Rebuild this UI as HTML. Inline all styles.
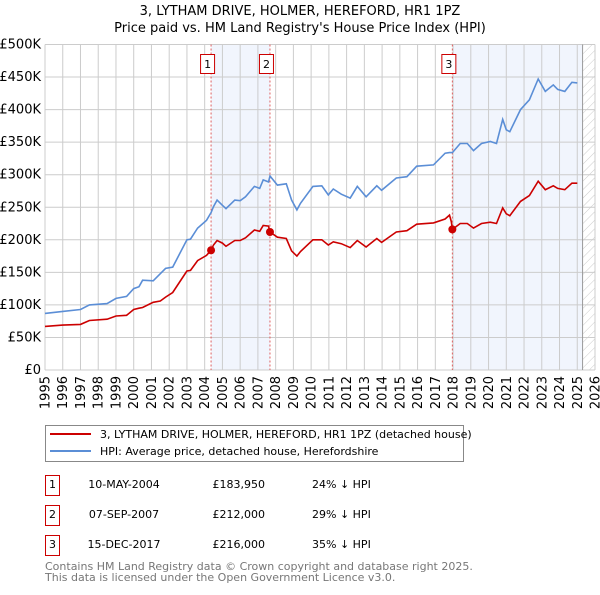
<!DOCTYPE html>
<html><head><meta charset="utf-8"><style>
body{margin:0;background:#fff;font-family:"Liberation Sans","DejaVu Sans",sans-serif;}
svg text{font-family:"DejaVu Sans","Liberation Sans",sans-serif;}
</style></head><body>
<svg id="c" width="600" height="590" xmlns="http://www.w3.org/2000/svg">
<defs><pattern id="hatch" width="6" height="6" patternUnits="userSpaceOnUse" patternTransform="rotate(45)"><line x1="0" y1="0" x2="0" y2="6" stroke="#ccc" stroke-width="1"/></pattern></defs>
<text x="300" y="15" text-anchor="middle" font-size="13">3, LYTHAM DRIVE, HOLMER, HEREFORD, HR1 1PZ</text>
<text x="300" y="32" text-anchor="middle" font-size="13">Price paid vs. HM Land Registry's House Price Index (HPI)</text>
<g id="bg"></g><g id="grid"></g><g id="lines"></g><g id="marks"></g><g id="axes"></g>
<g>
<rect x="45.5" y="425.5" width="418" height="36" fill="#fff" stroke="#888"/>
<line x1="50" y1="434" x2="91" y2="434" stroke="#cc0000" stroke-width="2"/>
<text x="100" y="438" font-size="11">3, LYTHAM DRIVE, HOLMER, HEREFORD, HR1 1PZ (detached house)</text>
<line x1="50" y1="451" x2="91" y2="451" stroke="#5b8ed6" stroke-width="2"/>
<text x="100" y="455" font-size="11">HPI: Average price, detached house, Herefordshire</text>
</g>
<g font-size="11">
<rect x="45.5" y="475.5" width="14" height="20" fill="#fff" stroke="#cc0000"/><text x="52.5" y="488" text-anchor="middle">1</text>
<text x="124" y="488" text-anchor="middle">10-MAY-2004</text><text x="265" y="488" text-anchor="end">£183,950</text><text x="312" y="488">24% ↓ HPI</text>
<rect x="45.5" y="505.5" width="14" height="20" fill="#fff" stroke="#cc0000"/><text x="52.5" y="518" text-anchor="middle">2</text>
<text x="124" y="518" text-anchor="middle">07-SEP-2007</text><text x="265" y="518" text-anchor="end">£212,000</text><text x="312" y="518">29% ↓ HPI</text>
<rect x="45.5" y="535.5" width="14" height="20" fill="#fff" stroke="#cc0000"/><text x="52.5" y="548" text-anchor="middle">3</text>
<text x="124" y="548" text-anchor="middle">15-DEC-2017</text><text x="265" y="548" text-anchor="end">£216,000</text><text x="312" y="548">35% ↓ HPI</text>
</g>
<text x="45" y="570" font-size="11" fill="#777">Contains HM Land Registry data © Crown copyright and database right 2025.</text>
<text x="45" y="581" font-size="11" fill="#777">This data is licensed under the Open Government Licence v3.0.</text>
</svg>
<script>
const years=[1995,1996,1997,1997.5,1998.5,1999,1999.6,2000,2000.3,2000.5,2001.1,2001.5,2001.8,2002.2,2003,2003.2,2003.6,2004.1,2004.36,2004.5,2004.7,2005,2005.2,2005.7,2006,2006.3,2006.8,2007.1,2007.3,2007.6,2007.68,2008.1,2008.6,2008.9,2009.2,2009.4,2010.1,2010.6,2010.97,2011.25,2011.7,2012.2,2012.6,2013.1,2013.7,2013.97,2014.8,2015.4,2015.95,2016.9,2017.55,2017.8,2017.9,2017.96,2018.4,2018.8,2019.15,2019.6,2020.1,2020.45,2020.8,2021,2021.2,2021.8,2022.3,2022.8,2023.2,2023.65,2023.9,2024.3,2024.7,2025.0];
const hpi=[87,90,93,100,102,110,113,125,128,138,137,148,156,158,200,201,218,230,242,251,261,253,248,261,260,266,282,279,292,289,298,284,286,261,246,256,282,283,269,278,270,264,282,266,283,276,295,297,313,315,333,334,334,334,348,348,337,348,351,348,385,369,366,400,415,447,428,438,431,428,442,441];
const paid=[67,69,70,76,78,83,84,93,95,96,104,106,112,119,152,153,168,176,184,192,199,195,190,199,199,203,215,213,222,221,212,204,202,183,175,182,200,200,192,197,194,188,199,189,202,196,212,214,224,226,232,238,228,216,225,225,218,225,227,225,249,240,237,259,268,290,277,283,279,277,287,287];
const saleYears=[2004.36,2007.68,2017.96];
const saleValues=[183.95,212,216];
const saleLabels=["1","2","3"];
const yTicks=[0,50,100,150,200,250,300,350,400,450,500];
const yTickLabels=["£0","£50K","£100K","£150K","£200K","£250K","£300K","£350K","£400K","£450K","£500K"];
const xTicks=[1995,1996,1997,1998,1999,2000,2001,2002,2003,2004,2005,2006,2007,2008,2009,2010,2011,2012,2013,2014,2015,2016,2017,2018,2019,2020,2021,2022,2023,2024,2025,2026];
const L=45,R=595,T=44.5,B=370,X0=1995,X1=2026,YMAX=500,dataEnd=2025.3;
const x=v=>L+(v-X0)/(X1-X0)*(R-L);
const y=v=>B-v/YMAX*(B-T);
const NS="http://www.w3.org/2000/svg";
function mk(tag,attrs,parent,txt){const e=document.createElementNS(NS,tag);for(const k in attrs)e.setAttribute(k,attrs[k]);if(txt!==undefined)e.textContent=txt;document.getElementById(parent).appendChild(e);return e;}
let e;
e=mk('rect',{x:L,y:T,width:R-L,height:B-T,fill:'#fff'},'bg');


e=mk('rect',{x:x(saleYears[0]),y:T,width:x(saleYears[1])-x(saleYears[0]),height:B-T,fill:'#eef3fc',opacity:0.8},'bg');


e=mk('rect',{x:x(saleYears[2]),y:T,width:x(dataEnd)-x(saleYears[2]),height:B-T,fill:'#eef3fc',opacity:0.8},'bg');


e=mk('rect',{x:x(dataEnd),y:T,width:R-x(dataEnd),height:B-T,fill:'url(#hatch)'},'bg');


yTicks.forEach((t,i)=>{
 e=mk('line',{x1:L,x2:R,y1:y(t),y2:y(t),stroke:'#ccc'},'grid');
 
 
 e=mk('text',{x:L-4,y:y(t)+4,'text-anchor':'end','font-size':13},'axes',yTickLabels[i]);
 
 
});
xTicks.forEach(t=>{
 e=mk('line',{x1:x(t),x2:x(t),y1:T,y2:B,stroke:'#ccc'},'grid');
 
 
 e=mk('text',{x:0,y:0,'font-size':13,'text-anchor':'end',transform:`translate(${x(t)+4.5},${B+6}) rotate(-90)`},'axes',String(t));
 
 
});
e=mk('line',{x1:x(dataEnd),x2:x(dataEnd),y1:T,y2:B,stroke:'#999','stroke-width':1},'grid');


saleYears.forEach((s,i)=>{
 e=mk('line',{x1:x(s),x2:x(s),y1:T,y2:B,stroke:'#e06060','stroke-dasharray':'2,2'},'grid');
 
 
});
const pts=arr=>arr.map((v,i)=>x(years[i]).toFixed(1)+','+y(v).toFixed(1)).join(' ');
e=mk('polyline',{points:pts(hpi),fill:'none',stroke:'#5b8ed6','stroke-width':1.6},'lines');


e=mk('polyline',{points:pts(paid),fill:'none',stroke:'#cc0000','stroke-width':1.6},'lines');


saleYears.forEach((s,i)=>{
 e=mk('circle',{cx:x(s),cy:y(saleValues[i]),r:4,fill:'#cc0000'},'marks');
 
 
 e=mk('rect',{x:x(s)-10.5,y:54.5,width:14,height:19,fill:'#fff',stroke:'#cc0000'},'marks');
 
 
 e=mk('text',{x:x(s)-3.5,y:68,'text-anchor':'middle','font-size':11},'marks',saleLabels[i]);
 
 
});
</script>
</body></html>
